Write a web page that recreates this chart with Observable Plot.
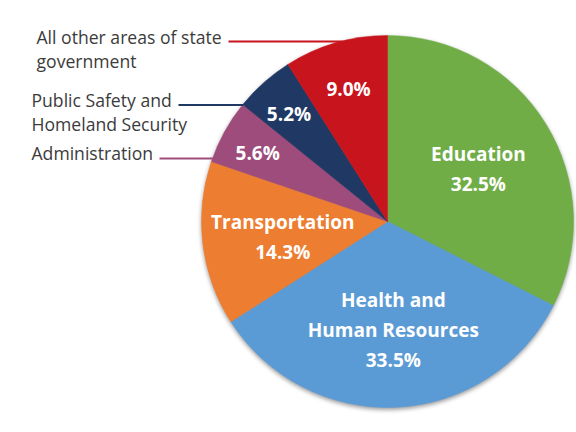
<!DOCTYPE html>
<html><head><meta charset="utf-8">
<script src="https://cdn.jsdelivr.net/npm/d3@7"></script>
<script src="https://cdn.jsdelivr.net/npm/@observablehq/plot@0.6"></script>
<style>html,body{margin:0;padding:0;background:#fff}</style>
</head><body><div id="chart"></div>
<script>
// ---- data ----
const categories = ["Education", "Health and Human Resources", "Transportation", "Administration", "Public Safety and Homeland Security", "All other areas of state government"];
const shares = [32.5, 33.5, 14.3, 5.6, 5.2, 9.0];
const sliceColors = ["#70AD47", "#5B9BD5", "#ED7D31", "#9E4C7B", "#1F3864", "#C8141C"];
const insideNames = [["Education"], ["Health and", "Human Resources"], ["Transportation"], [], [], []];
const outsideNames = [[], [], [], ["Administration"], ["Public Safety and", "Homeland Security"], ["All other areas of state", "government"]];

// ---- layout ----
const W = 576, H = 432;
const CX = 387.5, CY = 221.5, R = 186;          // pie centre / radius in px
const leaderAngle = [null, null, null, 290, 309, 346]; // degrees clockwise from top
const outsideTextX = [null, null, null, 31, 31, 36]; // px
const outsideTextEnd = [null, null, null, 159, 178, 228]; // px where leader begins

const rows = categories.map((c, i) => ({category: c, share: shares[i], color: sliceColors[i], inside: insideNames[i], outside: outsideNames[i], i}));
const arcs = d3.pie().sort(null).value(d => d.share)(rows);

const fmt = v => d3.format(".1f")(v) + "%";
const px2x = p => (p - CX) / R;
const px2y = p => (p - CY) / R;

const insideLabels = arcs.map(a => {
  const mid = (a.startAngle + a.endAngle) / 2;
  const k = a.data.share >= 10 ? 0.57 : (a.data.share > 8 ? 0.76 : 0.8);
  return {x: Math.sin(mid) * k, y: -Math.cos(mid) * k, text: [...a.data.inside, fmt(a.data.share)].join("\n")};
});

const outsideRows = rows.filter(d => d.outside.length).map(d => {
  const t = leaderAngle[d.i] * Math.PI / 180;
  const ex = Math.sin(t), ey = -Math.cos(t);
  return {x1: px2x(outsideTextEnd[d.i]), x2: ex, y: ey, tx: px2x(outsideTextX[d.i]), text: d.outside.join("\n"), color: d.color};
});

const pieMark = (index, scales) => {
  const x0 = scales.x(0), y0 = scales.y(0), r = scales.x(1) - scales.x(0);
  const g = d3.create("svg:g")
    .attr("transform", `translate(${x0},${y0})`)
    .style("filter", "drop-shadow(0px 2px 2px rgba(0,0,0,0.4))");
  const arcGen = d3.arc().innerRadius(0).outerRadius(r);
  g.selectAll("path").data(arcs).join("path")
    .attr("d", arcGen)
    .attr("fill", d => d.data.color)
    .attr("stroke", d => d.data.color)
    .attr("stroke-width", 0.5);
  return g.node();
};

const chart = Plot.plot({
  width: W, height: H,
  margin: 0,
  style: {fontFamily: "'Open Sans', sans-serif", background: "#fff"},
  x: {domain: [px2x(0), px2x(W)], range: [0, W], axis: null},
  y: {domain: [px2y(0), px2y(H)], range: [0, H], axis: null},
  marks: [
    pieMark,
    Plot.text(insideLabels, {x: "x", y: "y", text: "text", fill: "#fff", fontSize: 19, fontWeight: "bold", lineHeight: 30 / 19, textAnchor: "middle"}),
    Plot.link(outsideRows, {x1: "x1", x2: "x2", y1: "y", y2: "y", stroke: "color", strokeWidth: 2}),
    Plot.text(outsideRows, {x: "tx", y: "y", text: "text", fill: "#3b3b3b", fontSize: 17.6, textAnchor: "start", lineAnchor: "top", dy: -15, lineHeight: 24 / 17.6})
  ]
});
document.getElementById("chart").appendChild(chart);
</script>
</body></html>
